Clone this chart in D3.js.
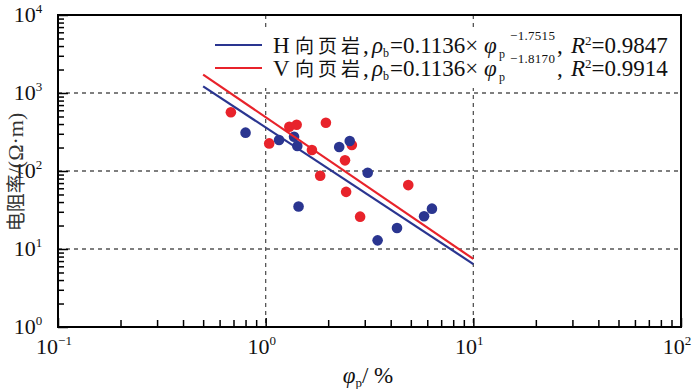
<!DOCTYPE html>
<html>
<head>
<meta charset="utf-8">
<script src="https://cdn.jsdelivr.net/npm/d3@7"></script>
<style>
  body { margin: 0; background: #fff; }
  text { font-family: "Liberation Serif", "Times New Roman", serif; fill: #111; }
  .cjk { font-family: "Noto Sans CJK SC", sans-serif; }
</style>
</head>
<body>
<div id="graph"></div>
<script>
const w = 700;
const h = 389;
const margin = {left: 58, right: 19, top: 15, bottom: 62};

// H direction shale samples
const hPhi = [0.80, 1.16, 1.37, 1.42, 1.44, 2.26, 2.54, 3.10, 3.46, 4.29, 5.79, 6.32];
const hRho = [310, 250, 275, 209, 35, 203, 242, 95, 12.9, 18.6, 26.3, 32.9];
// V direction shale samples
const vPhi = [0.68, 1.04, 1.30, 1.41, 1.95, 1.67, 2.60, 2.41, 1.83, 2.44, 4.86, 2.85];
const vRho = [566, 226, 370, 392, 416, 186, 215, 137, 87, 54, 66, 26];

// fit: rho = a * (phi/100)^b, drawn over phi range
const fitA = 0.1136;
const fitBH = -1.7515;
const fitBV = -1.8170;
const fitRange = [0.5, 10];

const xMajor = [0.1, 1, 10, 100];
const xExp = ['-1', '0', '1', '2'];
const yMajor = [1, 10, 100, 1000, 10000];
const yExp = ['0', '1', '2', '3', '4'];

const blue = '#2a3590';
const red = '#e8232b';

function minors(majors) {
  let out = [];
  for (let i = 0; i < majors.length - 1; i++) {
    for (let k = 2; k <= 9; k++) out.push(majors[i] * k);
  }
  return out;
}

const xScale = d3.scaleLog().domain([0.1, 100]).range([margin.left, w - margin.right]);
const yScale = d3.scaleLog().domain([1, 10000]).range([h - margin.bottom, margin.top]);

const svg = d3.select('#graph').append('svg')
  .attr('width', w).attr('height', h);

const x0 = margin.left, x1 = w - margin.right;
const y0 = margin.top, y1 = h - margin.bottom;

// grid
svg.append('g').selectAll('line')
  .data(xMajor.slice(1, -1)).enter().append('line')
  .attr('x1', d => xScale(d)).attr('x2', d => xScale(d))
  .attr('y1', y0).attr('y2', y1)
  .attr('stroke', '#555').attr('stroke-width', 1.3).attr('stroke-dasharray', '4,4');
svg.append('g').selectAll('line')
  .data(yMajor.slice(1, -1)).enter().append('line')
  .attr('x1', x0).attr('x2', x1)
  .attr('y1', d => yScale(d)).attr('y2', d => yScale(d))
  .attr('stroke', '#555').attr('stroke-width', 1.3).attr('stroke-dasharray', '4,4');

// legend background hides the grid
svg.append('rect')
  .attr('x', 205).attr('y', 27).attr('width', 475).attr('height', 61)
  .attr('fill', '#fff');

// points
function dots(phi, rho, color) {
  svg.append('g').selectAll('circle')
    .data(phi.map((p, i) => [p, rho[i]])).enter().append('circle')
    .attr('cx', d => xScale(d[0]))
    .attr('cy', d => yScale(d[1]))
    .attr('r', 5.3)
    .attr('fill', color);
}
dots(vPhi, vRho, red);
dots(hPhi, hRho, blue);

// fit lines
function fit(b, color) {
  svg.append('path')
    .datum(fitRange.map(p => [p, fitA * Math.pow(p / 100, b)]))
    .attr('fill', 'none')
    .attr('stroke', color)
    .attr('stroke-width', 2.2)
    .attr('d', d3.line().x(d => xScale(d[0])).y(d => yScale(d[1])));
}
fit(fitBH, blue);
fit(fitBV, red);

// axes (ticks point inwards)
function axisStyle(g) {
  g.select('.domain').remove();
  g.selectAll('.tick line').attr('stroke', '#000').attr('stroke-width', 1.5);
  g.selectAll('.tick text').remove();
}
svg.append('g').attr('transform', 'translate(0,' + y1 + ')')
  .call(d3.axisBottom(xScale).tickValues(minors(xMajor)).tickSize(-7).tickFormat(''))
  .call(axisStyle);
svg.append('g').attr('transform', 'translate(0,' + y1 + ')')
  .call(d3.axisBottom(xScale).tickValues(xMajor).tickSize(-9).tickFormat(''))
  .call(axisStyle);
svg.append('g').attr('transform', 'translate(' + x0 + ',0)')
  .call(d3.axisLeft(yScale).tickValues(minors(yMajor)).tickSize(-6).tickFormat(''))
  .call(axisStyle);
svg.append('g').attr('transform', 'translate(' + x0 + ',0)')
  .call(d3.axisLeft(yScale).tickValues(yMajor).tickSize(-10).tickFormat(''))
  .call(axisStyle);

// frame
svg.append('rect')
  .attr('x', x0).attr('y', y0).attr('width', x1 - x0).attr('height', y1 - y0)
  .attr('fill', 'none').attr('stroke', '#000').attr('stroke-width', 2);

// tick labels
const xl = svg.append('g').selectAll('text')
  .data(xMajor).enter().append('text')
  .attr('x', d => xScale(d) - 4)
  .attr('y', y1 + 27)
  .attr('text-anchor', 'middle')
  .style('font-size', '22px');
xl.append('tspan').text('10');
xl.append('tspan').attr('dy', -9).style('font-size', '13px').text((d, i) => xExp[i].replace('-', '\u2212'));

const yl = svg.append('g').selectAll('text')
  .data(yMajor).enter().append('text')
  .attr('x', x0 - 30)
  .attr('y', d => yScale(d) + 7)
  .attr('text-anchor', 'middle')
  .style('font-size', '22px');
yl.append('tspan').text('10');
yl.append('tspan').attr('dy', -9).style('font-size', '13px').text((d, i) => yExp[i]);

// axis titles
const xt = svg.append('text')
  .attr('x', 368).attr('y', 383)
  .attr('text-anchor', 'middle')
  .style('font-size', '23px');
xt.append('tspan').style('font-style', 'italic').text('\u03c6');
xt.append('tspan').attr('dy', 4).style('font-size', '13px').text('p');
xt.append('tspan').attr('dy', -4).text('/ %');

const yt = svg.append('text')
  .attr('text-anchor', 'middle')
  .attr('transform', 'translate(23,172)rotate(-90)')
  .style('fill', '#333');
yt.append('tspan').attr('class', 'cjk').style('font-size', '19px').text('电阻率');
yt.append('tspan').style('font-size', '22px').text('/(\u03a9\u00b7m)');

// legend
const legend = [
  {name: 'H', color: blue, b: '\u22121.7515', r2: '0.9847', y: 45},
  {name: 'V', color: red, b: '\u22121.8170', r2: '0.9914', y: 68}
];
legend.forEach(function (e) {
  const by = e.y + 8;
  svg.append('line')
    .attr('x1', 215).attr('x2', 262)
    .attr('y1', e.y).attr('y2', e.y)
    .attr('stroke', e.color).attr('stroke-width', 2.2);
  const t = svg.append('text')
    .attr('y', by)
    .style('font-size', '23px');
  t.append('tspan').attr('x', 273).text(e.name);
  t.append('tspan').attr('x', 295).attr('class', 'cjk')
    .style('letter-spacing', '4px').style('font-size', '19px').text('向页岩');
  t.append('tspan').attr('x', 363).text(',');
  t.append('tspan').attr('x', 372).style('font-style', 'italic').text('\u03c1');
  t.append('tspan').attr('y', by + 4).style('font-size', '12px').text('b');
  t.append('tspan').attr('x', 390).attr('y', by).text('=0.1136\u00d7');
  t.append('tspan').attr('x', 484).style('font-style', 'italic').text('\u03c6');
  t.append('tspan').attr('x', 499).attr('y', by + 5).style('font-size', '12px').text('p');
  t.append('tspan').attr('x', 510).attr('y', by - 13)
    .style('font-size', '13px').style('letter-spacing', '0.3px').text(e.b);
  t.append('tspan').attr('x', 557).attr('y', by).text(',');
  t.append('tspan').attr('x', 571).style('font-style', 'italic').text('R');
  t.append('tspan').attr('y', by - 8).style('font-size', '13px').text('2');
  t.append('tspan').attr('y', by).text('=' + e.r2);
});
</script>
</body>
</html>
